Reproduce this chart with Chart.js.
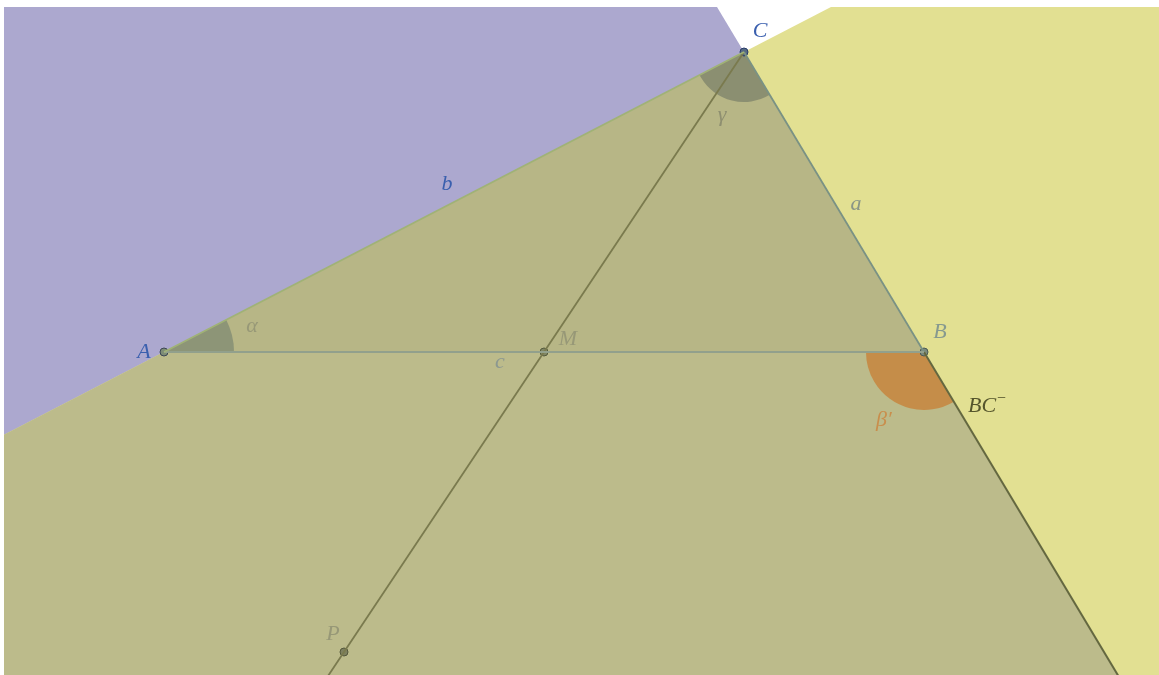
<!DOCTYPE html>
<html>
<head>
<meta charset="utf-8">
<script src="https://cdn.jsdelivr.net/npm/chart.js@4.4.0/dist/chart.umd.min.js"></script>
<style>
  html, body { margin: 0; padding: 0; background: #fff; overflow: hidden; }
  canvas { display: block; }
</style>
</head>
<body>
<canvas id="triangleChart" width="1159" height="675"></canvas>
<script>
"use strict";

// points of the construction (GeoGebra-like units)
var pointNames = [ 'A', 'B', 'C', 'M', 'P' ];
var pointX = [ 0, 7.6, 5.8, 3.8, 1.8 ];
var pointY = [ 0, 0, 3, 0, -3 ];

// visible window
var xRange = [ -1.6, 9.95 ];
var yRange = [ -3.23, 3.45 ];

// text labels, anchored in the same units
var labelText = [ 'A', 'C', 'b', 'a', 'α', 'c', 'M', 'B', 'γ', 'β′', 'BC', 'P' ];
var labelX = [ -0.2, 5.96, 2.83, 6.92, 0.88, 3.36, 4.04, 7.76, 5.58, 7.2, 8.18, 1.69 ];
var labelY = [ 0, 3.21, 1.68, 1.48, 0.26, -0.10, 0.13, 0.20, 2.37, -0.68, -0.54, -2.82 ];

var labelColor = {
    'A': '#3a5fae', 'C': '#3a5fae', 'b': '#3a5fae',
    'a': '#8a9686', 'α': '#979877', 'c': '#8c9890', 'M': '#979877',
    'B': '#86998f', 'γ': '#8e8f70', 'β′': '#c98e4c', 'BC': '#55552c', 'P': '#979877'
};

function pt( name ) {
    var i = pointNames.indexOf( name );
    return { x: pointX[ i ], y: pointY[ i ] };
}
function add( p, q, k ) { return { x: p.x + k * q.x, y: p.y + k * q.y }; }
function sub( p, q ) { return { x: p.x - q.x, y: p.y - q.y }; }

var A = pt( 'A' ), B = pt( 'B' ), C = pt( 'C' ), M = pt( 'M' ), P = pt( 'P' );
var FAR = 50;

var geometryPlugin = {
    id: 'geometry',
    beforeDatasetsDraw: function ( chart ) {
        var ctx = chart.ctx, area = chart.chartArea;
        var xs = chart.scales.x, ys = chart.scales.y;
        function px( p ) { return [ xs.getPixelForValue( p.x ), ys.getPixelForValue( p.y ) ]; }
        function poly( list, color ) {
            ctx.beginPath();
            list.forEach( function ( p, i ) {
                var q = px( p );
                if ( i === 0 ) ctx.moveTo( q[ 0 ], q[ 1 ] ); else ctx.lineTo( q[ 0 ], q[ 1 ] );
            } );
            ctx.closePath();
            ctx.fillStyle = color;
            ctx.fill();
        }
        function wedge( at, from, to, r, color ) {
            var c = px( at ), f = px( from ), t = px( to );
            var a0 = Math.atan2( f[ 1 ] - c[ 1 ], f[ 0 ] - c[ 0 ] );
            var a1 = Math.atan2( t[ 1 ] - c[ 1 ], t[ 0 ] - c[ 0 ] );
            ctx.beginPath();
            ctx.moveTo( c[ 0 ], c[ 1 ] );
            ctx.arc( c[ 0 ], c[ 1 ], r, a0, a1, false );
            ctx.closePath();
            ctx.fillStyle = color;
            ctx.fill();
        }
        ctx.save();
        ctx.beginPath();
        ctx.rect( area.left, area.top, area.right - area.left, area.bottom - area.top );
        ctx.clip();

        // half plane left of line BC
        var up = add( C, sub( C, B ), FAR ), down = add( C, sub( B, C ), FAR );
        poly( [ up, down, add( down, { x: -1, y: 0 }, 500 ), add( up, { x: -1, y: 0 }, 500 ) ], 'rgb(172,168,207)' );
        // half plane below line AC
        var e1 = add( C, sub( C, A ), FAR ), e2 = add( C, sub( A, C ), FAR );
        poly( [ e1, e2, add( e2, { x: 0, y: -1 }, 500 ), add( e1, { x: 0, y: -1 }, 500 ) ], 'rgb(226,224,146)' );
        // overlap
        poly( [ C, add( C, sub( A, C ), FAR ), add( C, sub( B, C ), FAR ) ], 'rgb(188,187,139)' );
        // triangle
        poly( [ A, B, C ], 'rgba(90,95,60,0.05)' );

        // angles
        wedge( A, C, B, 70, 'rgb(141,149,119)' );
        wedge( C, B, A, 50, 'rgb(139,143,113)' );
        wedge( B, add( B, sub( B, C ), 1 ), A, 58, 'rgb(197,141,73)' );
        ctx.restore();
    },
    afterDatasetsDraw: function ( chart ) {
        var ctx = chart.ctx;
        var xs = chart.scales.x, ys = chart.scales.y;
        ctx.save();
        ctx.textAlign = 'center';
        ctx.textBaseline = 'middle';
        labelText.forEach( function ( t, i ) {
            var x = xs.getPixelForValue( labelX[ i ] ), y = ys.getPixelForValue( labelY[ i ] );
            ctx.font = 'italic 22px "Liberation Serif", "DejaVu Serif", serif';
            ctx.fillStyle = labelColor[ t ];
            ctx.fillText( t, x, y );
            if ( t === 'BC' ) {
                var w = ctx.measureText( t ).width;
                ctx.font = '16px "Liberation Serif", "DejaVu Serif", serif';
                ctx.textAlign = 'left';
                ctx.fillText( '−', x + w / 2 + 1, y - 7 );
                ctx.textAlign = 'center';
            }
        } );
        ctx.restore();
    }
};

function seg( p, q, color, width ) {
    return {
        type: 'scatter',
        data: [ p, q ],
        showLine: true,
        borderColor: color,
        borderWidth: width,
        pointRadius: 0,
        clip: 0
    };
}

var ctx = document.getElementById( 'triangleChart' );
var triChart = new Chart( ctx, {
    type: 'scatter',
    data: {
        datasets: [
            seg( A, C, 'rgb(160,178,118)', 1.8 ),
            seg( A, B, 'rgb(146,160,140)', 2 ),
            seg( C, B, 'rgb(122,146,132)', 1.8 ),
            seg( B, add( B, sub( B, C ), 2 ), 'rgb(100,104,64)', 2 ),
            seg( C, add( C, sub( P, C ), 2 ), 'rgb(122,122,78)', 1.8 ),
            {
                type: 'scatter',
                data: pointNames.map( function ( n, i ) { return { x: pointX[ i ], y: pointY[ i ] }; } ),
                pointRadius: 4,
                pointBackgroundColor: [ 'rgb(125,140,118)', 'rgb(122,138,125)', 'rgb(85,105,130)', 'rgb(128,134,100)', 'rgb(125,128,95)' ],
                pointBorderColor: [ 'rgb(60,70,85)', 'rgb(75,90,85)', 'rgb(40,60,105)', 'rgb(85,90,60)', 'rgb(85,88,60)' ],
                pointBorderWidth: 1,
                clip: 0
            }
        ]
    },
    options: {
        responsive: false,
        animation: false,
        layout: { autoPadding: false, padding: { left: 4, top: 7, right: 0, bottom: 0 } },
        plugins: { legend: { display: false }, tooltip: { enabled: false } },
        events: [],
        scales: {
            x: { type: 'linear', min: xRange[ 0 ], max: xRange[ 1 ], display: false },
            y: { type: 'linear', min: yRange[ 0 ], max: yRange[ 1 ], display: false }
        }
    },
    plugins: [ geometryPlugin ]
} );
</script>
</body>
</html>
